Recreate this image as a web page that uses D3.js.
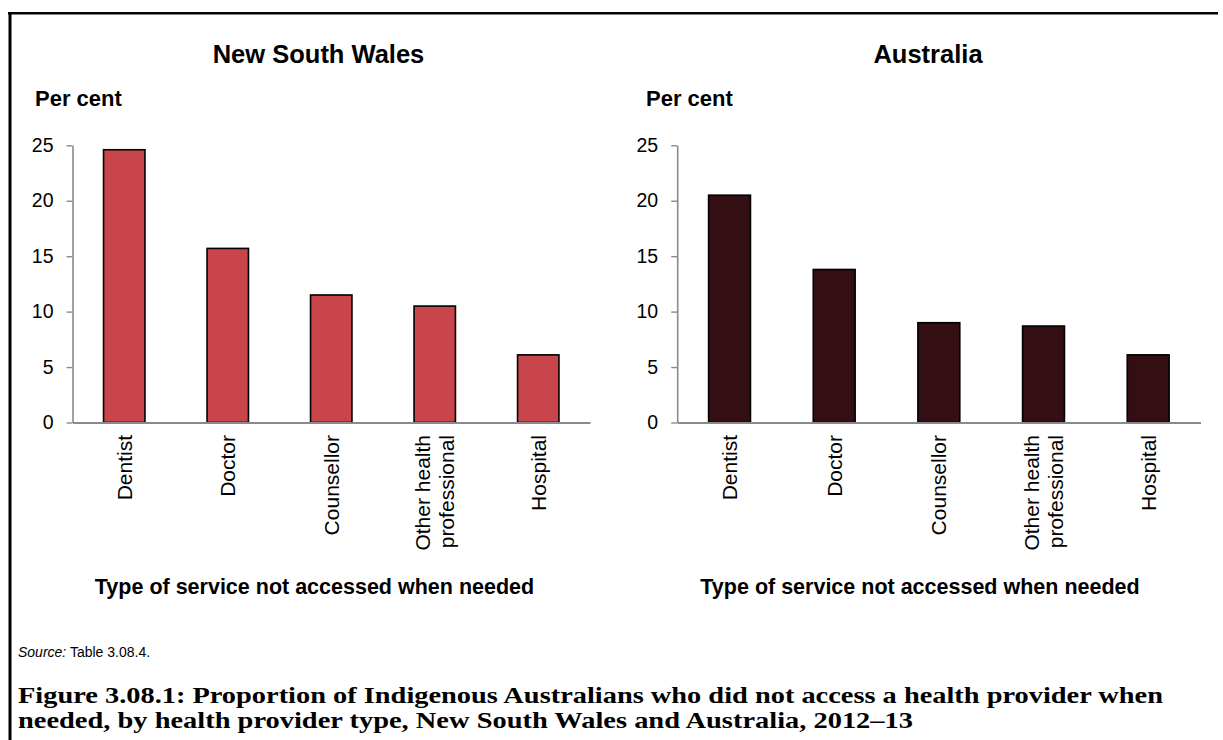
<!DOCTYPE html>
<html>
<head>
<meta charset="utf-8">
<script src="https://cdn.jsdelivr.net/npm/d3@7"></script>
<style>
  html, body { margin: 0; padding: 0; background: #ffffff; }
  svg { display: block; }
</style>
</head>
<body>
<svg id="chart" width="1223" height="740"></svg>
<script>
// ---------- data ----------
const categories = ["Dentist", "Doctor", "Counsellor", "Other health\nprofessional", "Hospital"];
const nswValues = [24.6, 15.7, 11.5, 10.5, 6.1];
const ausValues = [20.5, 13.8, 9.0, 8.7, 6.1];
const yTicks = [0, 5, 10, 15, 20, 25];
const panelTitles = ["New South Wales", "Australia"];
const yAxisTitle = "Per cent";
const xAxisTitle = "Type of service not accessed when needed";
const sourceLabel = "Source:";
const sourceText = " Table 3.08.4.";
const captionLines = [
  "Figure 3.08.1: Proportion of Indigenous Australians who did not access a health provider when",
  "needed, by health provider type, New South Wales and Australia, 2012\u201313"
];

// ---------- layout ----------
const SANS = "'Liberation Sans', Arial, sans-serif";
const SERIF = "'Liberation Serif', 'Times New Roman', serif";
const svg = d3.select("#chart");

const panels = [
  { values: nswValues, title: panelTitles[0], color: "#c8454b",
    axisX: 72.5, endX: 590, titleX: 318.5, perCentX: 35, xTitleX: 314.5 },
  { values: ausValues, title: panelTitles[1], color: "#330e13",
    axisX: 677.2, endX: 1200.5, titleX: 928, perCentX: 646, xTitleX: 920 }
];
const yTop = 145.3, yBottom = 422.5;

// frame (top and left rules)
svg.append("line").attr("x1", 8).attr("x2", 1218).attr("y1", 13.2).attr("y2", 13.2)
  .attr("stroke", "#000").attr("stroke-width", 2.4);
svg.append("line").attr("x1", 10).attr("x2", 10).attr("y1", 12).attr("y2", 740)
  .attr("stroke", "#000").attr("stroke-width", 3);

panels.forEach(p => {
  const g = svg.append("g");
  const y = d3.scaleLinear().domain([0, 25]).range([yBottom, yTop]);
  const x = d3.scaleBand().domain(categories).range([p.axisX, p.endX])
    .paddingInner(0.6).paddingOuter(0.3);

  // title
  g.append("text").attr("x", p.titleX).attr("y", 63).attr("text-anchor", "middle")
    .attr("font-family", SANS).attr("font-weight", "bold").attr("font-size", 25.5)
    .attr("fill", "#000").text(p.title);
  // y title
  g.append("text").attr("x", p.perCentX).attr("y", 106)
    .attr("font-family", SANS).attr("font-weight", "bold").attr("font-size", 22)
    .attr("fill", "#000").text(yAxisTitle);

  // y axis
  const yAxis = d3.axisLeft(y).tickValues(yTicks).tickSize(6).tickSizeOuter(0)
    .tickPadding(13).tickFormat(d3.format("d"));
  const ya = g.append("g").attr("transform", `translate(${p.axisX},0)`).call(yAxis);
  ya.select(".domain").attr("stroke", "#8a8a8a").attr("stroke-width", 1.6);
  ya.selectAll(".tick line").attr("stroke", "#8a8a8a").attr("stroke-width", 1.4);
  ya.selectAll(".tick text").attr("font-family", SANS).attr("font-size", 19.5)
    .attr("fill", "#000");

  // bars
  g.selectAll("rect.bar").data(p.values).enter().append("rect")
    .attr("class", "bar")
    .attr("x", (d, i) => x(categories[i]))
    .attr("width", x.bandwidth())
    .attr("y", d => y(d))
    .attr("height", d => y(0) - y(d))
    .attr("fill", p.color)
    .attr("stroke", "#000").attr("stroke-width", 1.6);

  // x axis
  const xAxis = d3.axisBottom(x).tickSize(0).tickSizeOuter(0).tickFormat("");
  const xa = g.append("g").attr("transform", `translate(0,${y(0)})`).call(xAxis);
  xa.select(".domain").attr("stroke", "#8a8a8a").attr("stroke-width", 1.8);

  // category labels (rotated)
  categories.forEach(c => {
    const lines = c.split("\n");
    const cx = x(c) + x.bandwidth() / 2;
    const t = g.append("text")
      .attr("transform", `translate(${cx},${y(0) + 12.5}) rotate(-90)`)
      .attr("text-anchor", "end")
      .attr("font-family", SANS).attr("font-size", 21).attr("fill", "#000");
    lines.forEach((ln, i) => {
      t.append("tspan").attr("x", 0)
        .attr("y", 7.5 + (i - (lines.length - 1) / 2) * 24)
        .text(ln);
    });
  });

  // x title
  g.append("text").attr("x", p.xTitleX).attr("y", 594).attr("text-anchor", "middle")
    .attr("font-family", SANS).attr("font-weight", "bold").attr("font-size", 21.5)
    .attr("fill", "#000").text(xAxisTitle);
});

// source
const src = svg.append("text").attr("x", 18).attr("y", 657)
  .attr("font-family", SANS).attr("font-size", 14).attr("fill", "#000");
src.append("tspan").attr("font-style", "italic").text(sourceLabel);
src.append("tspan").text(sourceText);

// caption (two lines, stretched to the reference line widths)
const capWidths = [1145, 895];
const cap = svg.append("g").attr("font-family", SERIF).attr("font-weight", "bold")
  .attr("fill", "#000");
captionLines.forEach((ln, i) => {
  cap.append("text").attr("x", 18).attr("y", 703 + i * 24.5)
    .attr("font-size", 22.5)
    .attr("textLength", capWidths[i]).attr("lengthAdjust", "spacingAndGlyphs")
    .text(ln);
});
</script>
</body>
</html>
